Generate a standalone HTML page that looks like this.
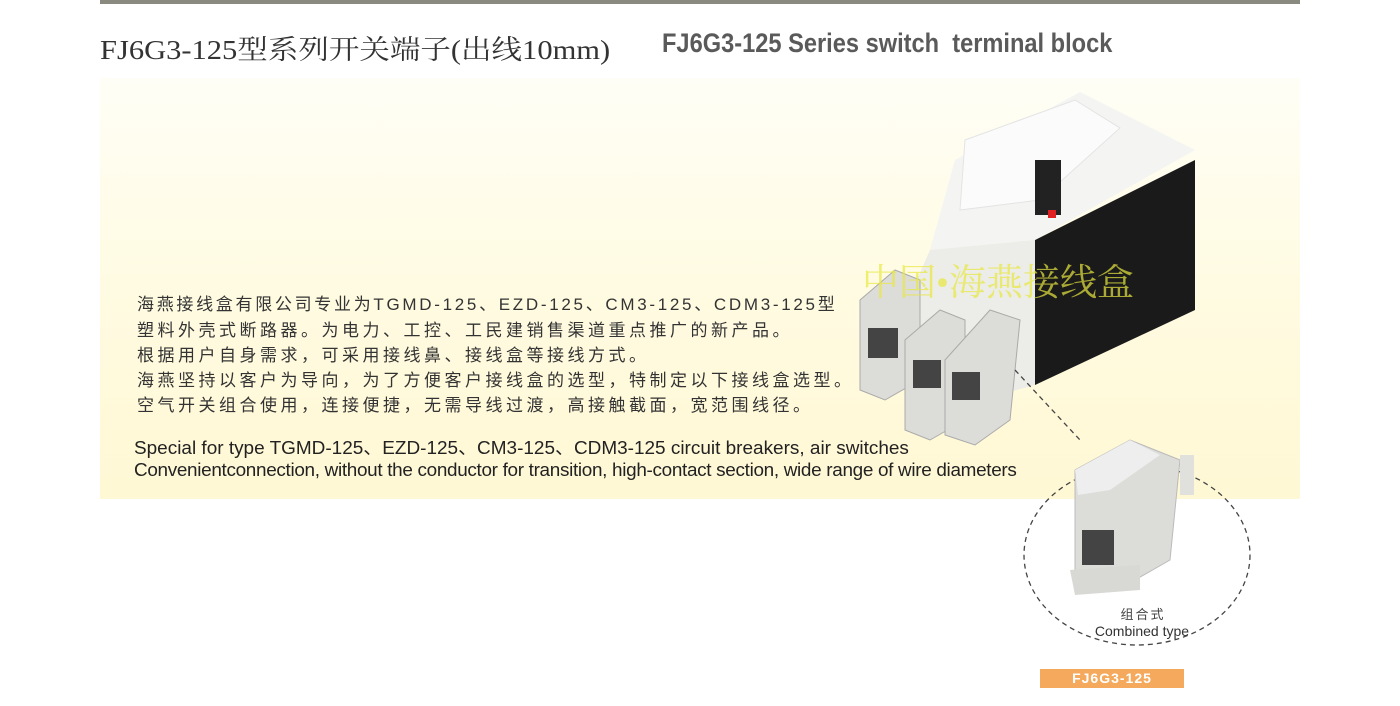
<!DOCTYPE html>
<html><head><meta charset="utf-8"><style>
body{margin:0;width:1400px;height:706px;background:#fff;position:relative;overflow:hidden;font-family:"Liberation Sans","Noto Sans CJK SC",sans-serif}
.abs{position:absolute;white-space:nowrap}
#bar{left:100px;top:0;width:1200px;height:4px;background:#8a8a80}
#panel{left:100px;top:78px;width:1200px;height:421px;background:linear-gradient(180deg,#fffef6 0%,#fffbe2 50%,#fff8d4 100%)}
#t1{left:100px;top:28px;font-family:"Liberation Serif","Noto Serif CJK SC",serif;font-size:27px;color:#333;transform:scaleX(1.13);transform-origin:left top}
#t2{left:662px;top:28px;font-size:27px;font-weight:bold;color:#5a5a5a;transform:scaleX(0.875);transform-origin:left top}
.cn{left:137px;font-size:17px;color:#333;letter-spacing:3.5px}
.en{left:134px;font-size:18px;color:#222;transform-origin:left top}
#tag{left:1040px;top:669px;width:144px;height:19px;background:#f4a95c;color:#fff;font-weight:bold;font-size:14px;text-align:center;line-height:19px;letter-spacing:1px}
</style></head><body>
<div id="bar" class="abs"></div>
<div id="panel" class="abs"></div>
<div id="t1" class="abs">FJ6G3-125型系列开关端子(出线10mm)</div>
<div id="t2" class="abs">FJ6G3-125 Series switch&nbsp; terminal block</div>
<div class="abs cn" style="top:290px;letter-spacing:2.7px">海燕接线盒有限公司专业为TGMD-125、EZD-125、CM3-125、CDM3-125型</div>
<div class="abs cn" style="top:316px">塑料外壳式断路器。为电力、工控、工民建销售渠道重点推广的新产品。</div>
<div class="abs cn" style="top:341px">根据用户自身需求，可采用接线鼻、接线盒等接线方式。</div>
<div class="abs cn" style="top:366px">海燕坚持以客户为导向，为了方便客户接线盒的选型，特制定以下接线盒选型。</div>
<div class="abs cn" style="top:391px">空气开关组合使用，连接便捷，无需导线过渡，高接触截面，宽范围线径。</div>
<div class="abs en" style="top:434px;transform:scaleX(1.053)">Special for type TGMD-125、EZD-125、CM3-125、CDM3-125 circuit breakers, air switches</div>
<div class="abs en" style="top:460px;transform:scaleX(1.05);letter-spacing:-0.3px">Convenientconnection, without the conductor for transition, high-contact section, wide range of wire diameters</div>
<svg class="abs" style="left:0;top:0" width="1400" height="706">
 <polygon points="1035,240 1195,160 1195,310 1035,385" fill="#1a1a1a"/>
 <polygon points="955,160 1080,92 1195,150 1035,240 930,250" fill="#f4f4f2"/>
 <polygon points="930,250 1035,240 1035,385 960,405 895,330" fill="#ecece8"/>
 <polygon points="965,140 1075,100 1120,128 1040,200 960,210" fill="#fbfbfb" stroke="#e4e4e4"/>
 <rect x="1035" y="160" width="26" height="55" fill="#222"/>
 <rect x="1048" y="210" width="8" height="8" fill="#e02020"/>
 <g fill="#dcdcd8" stroke="#aaa">
  <polygon points="860,300 895,270 920,280 920,380 885,400 860,390"/>
  <polygon points="905,340 940,310 965,320 965,420 930,440 905,430"/>
  <polygon points="945,360 990,310 1020,320 1010,420 975,445 945,435"/>
 </g>
 <g fill="#444">
  <rect x="868" y="328" width="30" height="30"/><rect x="913" y="360" width="28" height="28"/><rect x="952" y="372" width="28" height="28"/>
 </g>
 <ellipse cx="1137" cy="555" rx="113" ry="90" fill="none" stroke="#444" stroke-width="1.3" stroke-dasharray="5,4"/>
 <line x1="1015" y1="370" x2="1080" y2="440" stroke="#444" stroke-width="1.3" stroke-dasharray="5,4"/>
 <polygon points="1075,470 1130,440 1180,460 1170,560 1135,580 1085,585 1075,570" fill="#dcdcd8" stroke="#bbb"/>
 <polygon points="1075,470 1130,440 1160,455 1110,490 1078,495" fill="#eeeeee"/>
 <rect x="1082" y="530" width="32" height="35" fill="#444"/>
 <rect x="1180" y="455" width="14" height="40" fill="#e0e0dc"/>
 <polygon points="1070,570 1140,565 1140,590 1075,595" fill="#d8d8d4"/>
 <text x="1143" y="619" font-size="13" fill="#444" text-anchor="middle" font-family="Liberation Sans,Noto Sans CJK SC,sans-serif" letter-spacing="2">组合式</text>
 <text x="1142" y="636" font-size="14" fill="#333" text-anchor="middle" font-family="Liberation Sans,sans-serif">Combined type</text>
 <text x="862" y="295" font-size="37" fill="#e8e840" fill-opacity="0.7" font-family="Liberation Serif,Noto Serif CJK SC,serif">中国•海燕接线盒</text>
</svg>
<div id="tag" class="abs">FJ6G3-125</div>
</body></html>
